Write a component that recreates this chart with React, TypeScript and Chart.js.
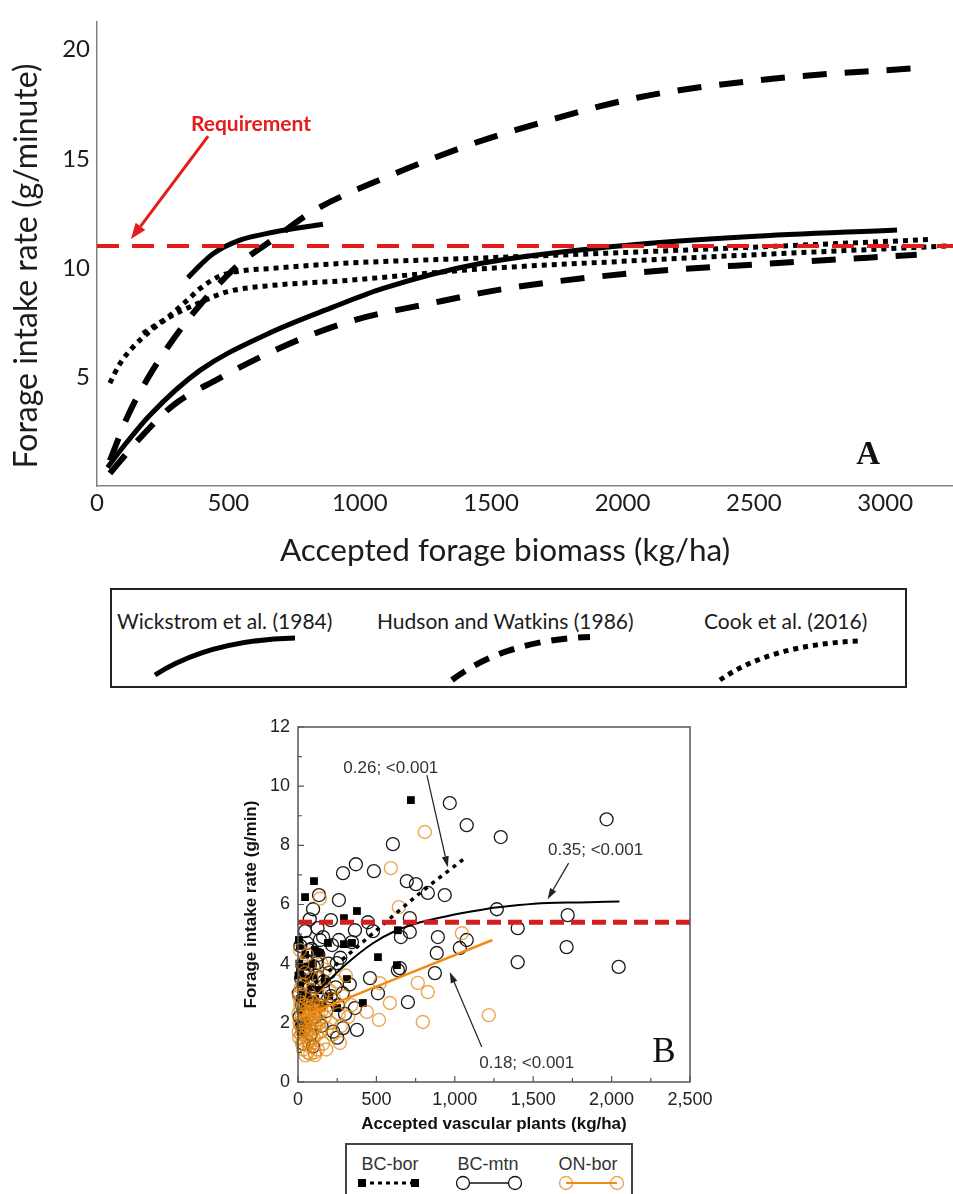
import React, { useEffect, useRef } from 'react';
import { Chart, registerables } from 'chart.js';
Chart.register(...registerables);

// ---------------- Panel A ----------------
const xTicksA = [0, 500, 1000, 1500, 2000, 2500, 3000];
const yTicksA = [5, 10, 15, 20];
const xMaxA = 3258;
const yMaxA = 21.3;
const requirementA = 11;
const xTitleA = 'Accepted forage biomass (kg/ha)';
const yTitleA = 'Forage intake rate (g/minute)';

const wickShortX = [346, 395, 442, 544, 670, 860];
const wickShortY = [9.55, 10.15, 10.65, 11.27, 11.63, 12.0];
const wickLongX = [40, 100, 202, 392, 647, 898, 1089, 1458, 1964, 2474, 3045];
const wickLongY = [0.85, 1.8, 3.26, 5.3, 6.96, 8.2, 9.06, 10.2, 10.98, 11.43, 11.74];
const hudsonHighX = [49, 113, 190, 277, 392, 544, 670, 822, 1089, 1408, 1561, 2055, 2562, 3106];
const hudsonHighY = [1.16, 3.1, 4.87, 6.5, 8.3, 10.2, 11.3, 12.6, 14.1, 15.6, 16.2, 17.8, 18.66, 19.15];
const hudsonLowX = [49, 164, 290, 455, 709, 963, 1280, 1561, 2055, 2562, 3120];
const hudsonLowY = [0.58, 2.2, 3.7, 4.87, 6.4, 7.55, 8.4, 9.06, 9.78, 10.2, 10.6];
const cookHighX = [49, 87, 137, 202, 266, 342, 392, 468, 544, 670, 925, 1458, 2000, 2500, 3170];
const cookHighY = [4.72, 5.6, 6.37, 7.1, 7.7, 8.5, 9.05, 9.63, 9.85, 9.98, 10.2, 10.45, 10.7, 10.95, 11.3];
const cookLowX = [175, 240, 316, 380, 494, 670, 925, 1458, 2000, 2500, 3235];
const cookLowY = [7.0, 7.5, 8.0, 8.35, 8.9, 9.2, 9.4, 9.95, 10.3, 10.6, 11.0];

const reqLabelA = { text: 'Requirement', x: 586, y: 16.58 };
const reqArrowA = { x1: 423, y1: 16.04, x2: 129, y2: 11.32 };
const panelLabelA = { text: 'A', x: 2935, y: 1.38 };
const legendA = ['Wickstrom et al. (1984)', 'Hudson and Watkins (1986)', 'Cook et al. (2016)'];

// ---------------- Panel B ----------------
const xTicksB = [0, 500, 1000, 1500, 2000, 2500];
const yTicksB = [0, 2, 4, 6, 8, 10, 12];
const requirementB = 5.4;
const xTitleB = 'Accepted vascular plants (kg/ha)';
const yTitleB = 'Forage intake rate (g/min)';

const bcBorPoints: [number, number][] = [
  [720, 9.53], [102, 6.79], [45, 6.25], [376, 5.78], [293, 5.54], [637, 5.13], [191, 4.7], [293, 4.66],
  [344, 4.7], [6, 4.8], [108, 4.46], [510, 4.22], [631, 3.95], [312, 3.48], [414, 2.67], [13, 3.78], [140, 4.36],
  [5, 2.0], [10, 2.8], [15, 3.3], [20, 2.4], [25, 1.9], [30, 3.0], [35, 2.6], [40, 2.2], [50, 3.5], [55, 2.9],
  [65, 2.0], [70, 2.7], [80, 3.2], [90, 2.4], [100, 3.6], [110, 2.8], [130, 3.1], [150, 2.6], [170, 3.4],
  [8, 4.0], [12, 4.6], [45, 4.3], [60, 3.9], [200, 2.9], [250, 2.5], [95, 4.0], [3, 3.6], [18, 1.7], [120, 4.4],
];
const bcMtnPoints: [number, number][] = [
  [968, 9.43], [1076, 8.68], [605, 8.04], [369, 7.36], [287, 7.06], [484, 7.13], [694, 6.79], [752, 6.69],
  [828, 6.39], [936, 6.32], [134, 6.32], [96, 5.84], [261, 6.15], [210, 5.47], [446, 5.4], [363, 5.13],
  [478, 5.1], [713, 5.54], [656, 4.9], [713, 5.07], [892, 4.9], [885, 4.36], [873, 3.68], [650, 3.85],
  [701, 2.7], [459, 3.51], [510, 3.0], [344, 4.73], [261, 4.8], [217, 4.63], [57, 4.7], [140, 4.8], [70, 4.46],
  [121, 4.02], [248, 4.02], [1076, 4.8], [1032, 4.53], [1268, 5.84], [1401, 5.2], [1401, 4.05], [1293, 8.28],
  [1968, 8.88], [1720, 5.64], [1713, 4.56], [2045, 3.89], [637, 3.78], [363, 2.5], [287, 1.82], [376, 1.76],
  [10, 2.2], [20, 3.5], [30, 1.8], [40, 2.9], [50, 4.1], [60, 2.5], [70, 3.3], [80, 1.6], [90, 2.8], [100, 3.9],
  [110, 2.2], [120, 3.0], [130, 4.3], [140, 2.6], [150, 1.9], [165, 3.4], [180, 2.4], [195, 4.0], [210, 2.9],
  [225, 1.7], [240, 3.2], [255, 2.6], [270, 4.2], [285, 3.0], [300, 2.3], [15, 4.6], [45, 5.1], [75, 5.5],
  [35, 1.3], [95, 1.2], [125, 5.2], [160, 4.9], [200, 3.7], [330, 3.3], [250, 1.5], [60, 3.8], [5, 3.0],
  [25, 2.6], [85, 4.5], [115, 3.6],
];
const onBorPoints: [number, number][] = [
  [809, 8.45], [592, 7.23], [643, 5.91], [1045, 5.03], [764, 3.35], [828, 3.04], [586, 2.67], [796, 2.03],
  [1217, 2.26], [140, 6.2], [439, 2.37], [516, 2.1], [267, 1.32], [108, 0.91], [522, 3.34],
  [20, 1.6], [35, 2.1], [40, 2.4], [50, 1.9], [55, 2.8], [60, 1.4], [65, 2.2], [70, 3.0], [75, 1.2], [80, 2.5],
  [85, 1.8], [90, 2.0], [95, 2.7], [100, 1.5], [105, 2.3], [110, 3.2], [115, 1.9], [120, 2.6], [125, 1.1],
  [130, 2.1], [135, 3.5], [140, 1.7], [150, 2.4], [155, 2.9], [160, 1.3], [170, 2.2], [175, 3.8], [185, 1.8],
  [190, 2.6], [200, 3.1], [210, 2.0], [220, 1.6], [230, 2.8], [245, 3.4], [260, 2.3], [275, 1.9], [290, 2.9],
  [305, 3.6], [320, 2.2], [340, 2.6], [30, 3.3], [45, 3.7], [15, 2.7], [25, 1.3], [10, 2.0], [5, 1.7],
  [12, 3.0], [58, 4.3], [28, 4.0], [88, 3.5], [150, 4.0], [108, 1.0], [180, 1.1], [62, 1.0], [13, 4.46],
  [3, 2.3], [8, 1.5], [14, 2.5], [18, 1.9], [22, 2.2], [27, 1.7], [32, 2.6], [38, 1.4], [42, 2.0], [47, 2.3],
  [52, 1.6], [57, 2.1], [63, 2.5], [67, 1.8], [72, 2.3], [77, 1.5], [83, 2.1], [87, 2.4], [93, 1.7], [98, 2.2],
  [103, 1.9], [113, 2.4], [118, 1.6], [128, 2.3], [138, 2.0], [145, 2.6], [33, 1.1], [48, 0.9], [78, 0.95],
  [18, 3.2], [6, 2.9], [40, 1.8], [68, 1.35], [92, 2.55],
];
const bcBorFitX = [20, 376, 777, 1060];
const bcBorFitY = [2.95, 4.56, 6.38, 7.55];
const bcMtnFitX = [120, 310, 480, 610, 780, 990, 1200, 1410, 1590, 1800, 2050];
const bcMtnFitY = [3.05, 4.0, 4.7, 5.08, 5.4, 5.65, 5.85, 5.98, 6.05, 6.07, 6.1];
const onBorFitX = [20, 1240];
const onBorFitY = [2.2, 4.8];

const notesB = [
  { text: '0.26; <0.001', x: 592, y: 10.6, ax1: 822, ay1: 10.37, ax2: 955, ay2: 7.26 },
  { text: '0.35; <0.001', x: 1898, y: 7.84, ax1: 1726, ay1: 7.4, ax2: 1592, ay2: 6.18 },
  { text: '0.18; <0.001', x: 1459, y: 0.64, ax1: 1172, ay1: 1.18, ax2: 968, ay2: 3.72 },
];
const panelLabelB = { text: 'B', x: 2334, y: 0.98 };
const legendB = ['BC-bor', 'BC-mtn', 'ON-bor'];

const ORANGE_LINE = 'rgb(240,140,20)';
const ORANGE_PT = 'rgba(225,135,20,0.72)';
const RED = 'rgb(228,28,28)';

const pts = (xs: number[], ys: number[]) => xs.map((x, i) => ({ x, y: ys[i] }));
const pairPts = (p: [number, number][]) => p.map(([x, y]) => ({ x, y }));

function drawArrow(ctx: CanvasRenderingContext2D, x1: number, y1: number, x2: number, y2: number,
  head: number, width: number, color: string, lw: number) {
  const a = Math.atan2(y2 - y1, x2 - x1);
  const bx = x2 - head * Math.cos(a), by = y2 - head * Math.sin(a);
  ctx.strokeStyle = color; ctx.fillStyle = color; ctx.lineWidth = lw;
  ctx.beginPath(); ctx.moveTo(x1, y1); ctx.lineTo(bx, by); ctx.stroke();
  ctx.beginPath(); ctx.moveTo(x2, y2);
  ctx.lineTo(bx + (width / 2) * Math.sin(a), by - (width / 2) * Math.cos(a));
  ctx.lineTo(bx - (width / 2) * Math.sin(a), by + (width / 2) * Math.cos(a));
  ctx.closePath(); ctx.fill();
}

const overlayA = {
  id: 'overlayA',
  afterDraw(chart: any) {
    const { ctx } = chart;
    const x = chart.scales.x, y = chart.scales.y;
    ctx.save();
    ctx.fillStyle = '#1c1c1c';
    ctx.textAlign = 'center';
    ctx.textBaseline = 'middle';
    ctx.font = '31.5px Lato';
    ctx.fillText(xTitleA, 505, 551);
    ctx.save();
    ctx.translate(27, 266);
    ctx.rotate(-Math.PI / 2);
    ctx.font = '32px Lato';
    ctx.fillText(yTitleA, 0, 0);
    ctx.restore();
    ctx.fillStyle = RED;
    ctx.font = 'bold 21px Lato';
    ctx.fillText(reqLabelA.text, x.getPixelForValue(reqLabelA.x), y.getPixelForValue(reqLabelA.y));
    drawArrow(ctx, x.getPixelForValue(reqArrowA.x1), y.getPixelForValue(reqArrowA.y1),
      x.getPixelForValue(reqArrowA.x2), y.getPixelForValue(reqArrowA.y2), 16, 12, RED, 3);
    ctx.fillStyle = '#111';
    ctx.font = 'bold 33px "Liberation Serif", "DejaVu Serif", serif';
    ctx.fillText(panelLabelA.text, x.getPixelForValue(panelLabelA.x), y.getPixelForValue(panelLabelA.y));
    ctx.restore();
  },
};

const overlayB = {
  id: 'overlayB',
  afterDraw(chart: any) {
    const { ctx, chartArea: ca } = chart;
    const x = chart.scales.x, y = chart.scales.y;
    ctx.save();
    ctx.strokeStyle = '#555';
    ctx.lineWidth = 1.5;
    ctx.strokeRect(ca.left, ca.top, ca.right - ca.left, ca.bottom - ca.top);
    ctx.lineWidth = 1.2;
    ctx.beginPath();
    for (let v = 0; v <= 2500; v += 250) {
      const px = x.getPixelForValue(v);
      const len = v % 500 === 0 ? 6 : 4;
      ctx.moveTo(px, ca.bottom); ctx.lineTo(px, ca.bottom - len);
    }
    for (let v = 0; v <= 12; v += 1) {
      const py = y.getPixelForValue(v);
      const len = v % 2 === 0 ? 6 : 4;
      ctx.moveTo(ca.left, py); ctx.lineTo(ca.left + len, py);
    }
    ctx.stroke();
    ctx.textAlign = 'center';
    ctx.textBaseline = 'middle';
    ctx.font = '17px "Liberation Sans", Arial, sans-serif';
    for (const n of notesB) {
      ctx.fillStyle = '#333';
      ctx.fillText(n.text, x.getPixelForValue(n.x), y.getPixelForValue(n.y));
      drawArrow(ctx, x.getPixelForValue(n.ax1), y.getPixelForValue(n.ay1),
        x.getPixelForValue(n.ax2), y.getPixelForValue(n.ay2), 11, 7, '#222', 1.2);
    }
    ctx.fillStyle = '#111';
    ctx.font = '35px "Liberation Serif", "DejaVu Serif", serif';
    ctx.fillText(panelLabelB.text, x.getPixelForValue(panelLabelB.x), y.getPixelForValue(panelLabelB.y));
    ctx.restore();
  },
};

function lineDs(xs: number[], ys: number[], extra: any) {
  return {
    data: pts(xs, ys), showLine: true, pointRadius: 0, borderColor: '#000', fill: false,
    cubicInterpolationMode: 'monotone', borderCapStyle: 'butt', ...extra,
  };
}

export default function App() {
  const refA = useRef<HTMLCanvasElement>(null);
  const refB = useRef<HTMLCanvasElement>(null);

  useEffect(() => {
    document.body.style.margin = '0';
    document.body.style.overflow = 'hidden';
    const tickFontA = { family: 'Lato', size: 24 };
    const chartA = new Chart(refA.current as HTMLCanvasElement, {
      type: 'scatter',
      data: {
        datasets: [
          lineDs([0, xMaxA], [requirementA, requirementA], { borderColor: RED, borderWidth: 4, borderDash: [22, 13], order: 0 }),
          lineDs(wickShortX, wickShortY, { borderWidth: 5, order: 1 }),
          lineDs(wickLongX, wickLongY, { borderWidth: 5, order: 1 }),
          lineDs(hudsonHighX, hudsonHighY, { borderWidth: 6, borderDash: [24, 18], order: 1 }),
          lineDs(hudsonLowX, hudsonLowY, { borderWidth: 6, borderDash: [24, 18], order: 1 }),
          lineDs(cookHighX, cookHighY, { borderWidth: 5, borderDash: [5, 5], order: 1 }),
          lineDs(cookLowX, cookLowY, { borderWidth: 5, borderDash: [5, 5], order: 1 }),
        ],
      },
      options: {
        animation: false, responsive: false, maintainAspectRatio: false,
        layout: { padding: { top: 8, left: 0, right: 0, bottom: 0 } },
        plugins: { legend: { display: false }, tooltip: { enabled: false } },
        scales: {
          x: {
            type: 'linear', min: 0, max: xMaxA,
            grid: { display: false, drawTicks: false },
            border: { display: true, color: '#808080', width: 1.5 },
            ticks: { font: tickFontA, color: '#1c1c1c', padding: 3, includeBounds: false, maxRotation: 0, callback: (v: any) => String(v) },
            afterBuildTicks: (s: any) => { s.ticks = xTicksA.map((v) => ({ value: v })); },
            afterFit: (s: any) => { s.height = 94; },
          },
          y: {
            type: 'linear', min: 0, max: yMaxA,
            grid: { display: false, drawTicks: false },
            border: { display: true, color: '#808080', width: 1.5 },
            ticks: { font: tickFontA, color: '#1c1c1c', padding: 7, callback: (v: any) => String(v) },
            afterBuildTicks: (s: any) => { s.ticks = yTicksA.map((v) => ({ value: v })); },
            afterFit: (s: any) => { s.width = 97; },
          },
        },
      } as any,
      plugins: [overlayA],
    });

    const tickFontB = { family: '"Liberation Sans", Arial, sans-serif', size: 18 };
    const chartB = new Chart(refB.current as HTMLCanvasElement, {
      type: 'scatter',
      data: {
        datasets: [
          lineDs([0, 2500], [requirementB, requirementB], { borderColor: 'rgb(214,30,30)', borderWidth: 5, borderDash: [14, 7], order: 0, cubicInterpolationMode: 'default' }),
          lineDs(bcBorFitX, bcBorFitY, { borderWidth: 3.5, borderDash: [4, 5], order: 1 }),
          lineDs(bcMtnFitX, bcMtnFitY, { borderWidth: 2, order: 2 }),
          lineDs(onBorFitX, onBorFitY, { borderWidth: 2.5, borderColor: ORANGE_LINE, order: 3 }),
          { data: pairPts(onBorPoints), pointStyle: 'circle', pointRadius: 6.5, pointBorderWidth: 1.4, pointBorderColor: ORANGE_PT, pointBackgroundColor: 'rgba(0,0,0,0)', showLine: false, order: 4, clip: false },
          { data: pairPts(bcBorPoints), pointStyle: 'rect', pointRadius: 5.5, pointBorderWidth: 0, pointBackgroundColor: '#000', pointBorderColor: '#000', showLine: false, order: 5, clip: false },
          { data: pairPts(bcMtnPoints), pointStyle: 'circle', pointRadius: 6.5, pointBorderWidth: 1.3, pointBorderColor: '#1a1a1a', pointBackgroundColor: 'rgba(0,0,0,0)', showLine: false, order: 6, clip: false },
        ],
      },
      options: {
        animation: false, responsive: false, maintainAspectRatio: false,
        layout: { padding: { top: 27, left: 230, right: 263, bottom: 0 } },
        plugins: { legend: { display: false }, tooltip: { enabled: false } },
        scales: {
          x: {
            type: 'linear', min: 0, max: 2500,
            grid: { display: false, drawTicks: false },
            border: { display: false },
            ticks: { font: tickFontB, color: '#222', padding: 7, maxRotation: 0, callback: (v: any) => Number(v).toLocaleString('en-US') },
            afterBuildTicks: (s: any) => { s.ticks = xTicksB.map((v) => ({ value: v })); },
            afterFit: (s: any) => { s.height = 58; },
            title: { display: true, text: xTitleB, color: '#111', font: { family: '"Liberation Sans", Arial, sans-serif', size: 17, weight: 'bold' }, padding: { top: 0, bottom: 5 } },
          },
          y: {
            type: 'linear', min: 0, max: 12,
            grid: { display: false, drawTicks: false },
            border: { display: false },
            ticks: { font: tickFontB, color: '#222', padding: 8 },
            afterBuildTicks: (s: any) => { s.ticks = yTicksB.map((v) => ({ value: v })); },
            afterFit: (s: any) => { s.width = 68; },
            title: { display: true, text: yTitleB, color: '#111', font: { family: '"Liberation Sans", Arial, sans-serif', size: 17, weight: 'bold' }, padding: { top: 11, bottom: 0 } },
          },
        },
      } as any,
      plugins: [overlayB],
    });

    return () => { chartA.destroy(); chartB.destroy(); };
  }, []);

  const arial = '"Liberation Sans", Arial, sans-serif';
  return (
    <div style={{ position: 'relative', width: 953, height: 1194, overflow: 'hidden', background: '#fff' }}>
      <canvas ref={refA} width={953} height={580} style={{ position: 'absolute', left: 0, top: 0, width: 953, height: 580 }} />
      <svg width={797} height={100} style={{ position: 'absolute', left: 110, top: 588 }}>
        <rect x={1} y={1} width={795} height={98} fill="none" stroke="#222" strokeWidth={2} />
        <g fontFamily="Lato" fontSize={21} fill="#1c1c1c" dominantBaseline="central">
          <text x={7} y={32}>{legendA[0]}</text>
          <text x={267} y={32}>{legendA[1]}</text>
          <text x={594} y={32}>{legendA[2]}</text>
        </g>
        <path d="M45 87 Q100 52 185 50" fill="none" stroke="#000" strokeWidth={5} />
        <path d="M342 92 Q395 52 480 49" fill="none" stroke="#000" strokeWidth={6} strokeDasharray="16 11" />
        <path d="M610 92 Q660 57 748 53" fill="none" stroke="#000" strokeWidth={5} strokeDasharray="5 5" />
      </svg>
      <canvas ref={refB} width={953} height={440} style={{ position: 'absolute', left: 0, top: 700, width: 953, height: 440 }} />
      <svg width={288} height={51} style={{ position: 'absolute', left: 345, top: 1143 }}>
        <path d="M1 60 L1 1 L287 1 L287 60" fill="none" stroke="#444" strokeWidth={2} />
        <g fontFamily={arial} fontSize={18} fill="#333" textAnchor="middle" dominantBaseline="central">
          <text x={45} y={21}>{legendB[0]}</text>
          <text x={143} y={21}>{legendB[1]}</text>
          <text x={243} y={21}>{legendB[2]}</text>
        </g>
        <line x1={17} y1={40} x2={70} y2={40} stroke="#000" strokeWidth={3} strokeDasharray="4 4" />
        <rect x={13} y={36} width={8} height={8} fill="#000" />
        <rect x={66} y={36} width={8} height={8} fill="#000" />
        <line x1={118} y1={40} x2={170} y2={40} stroke="#111" strokeWidth={1.5} />
        <circle cx={118} cy={40} r={6.5} fill="#fff" stroke="#111" strokeWidth={1.3} />
        <circle cx={170} cy={40} r={6.5} fill="#fff" stroke="#111" strokeWidth={1.3} />
        <line x1={221} y1={40} x2={272} y2={40} stroke={ORANGE_LINE} strokeWidth={2} />
        <circle cx={221} cy={40} r={6.5} fill="none" stroke={ORANGE_PT} strokeWidth={1.4} />
        <circle cx={272} cy={40} r={6.5} fill="none" stroke={ORANGE_PT} strokeWidth={1.4} />
      </svg>
    </div>
  );
}
